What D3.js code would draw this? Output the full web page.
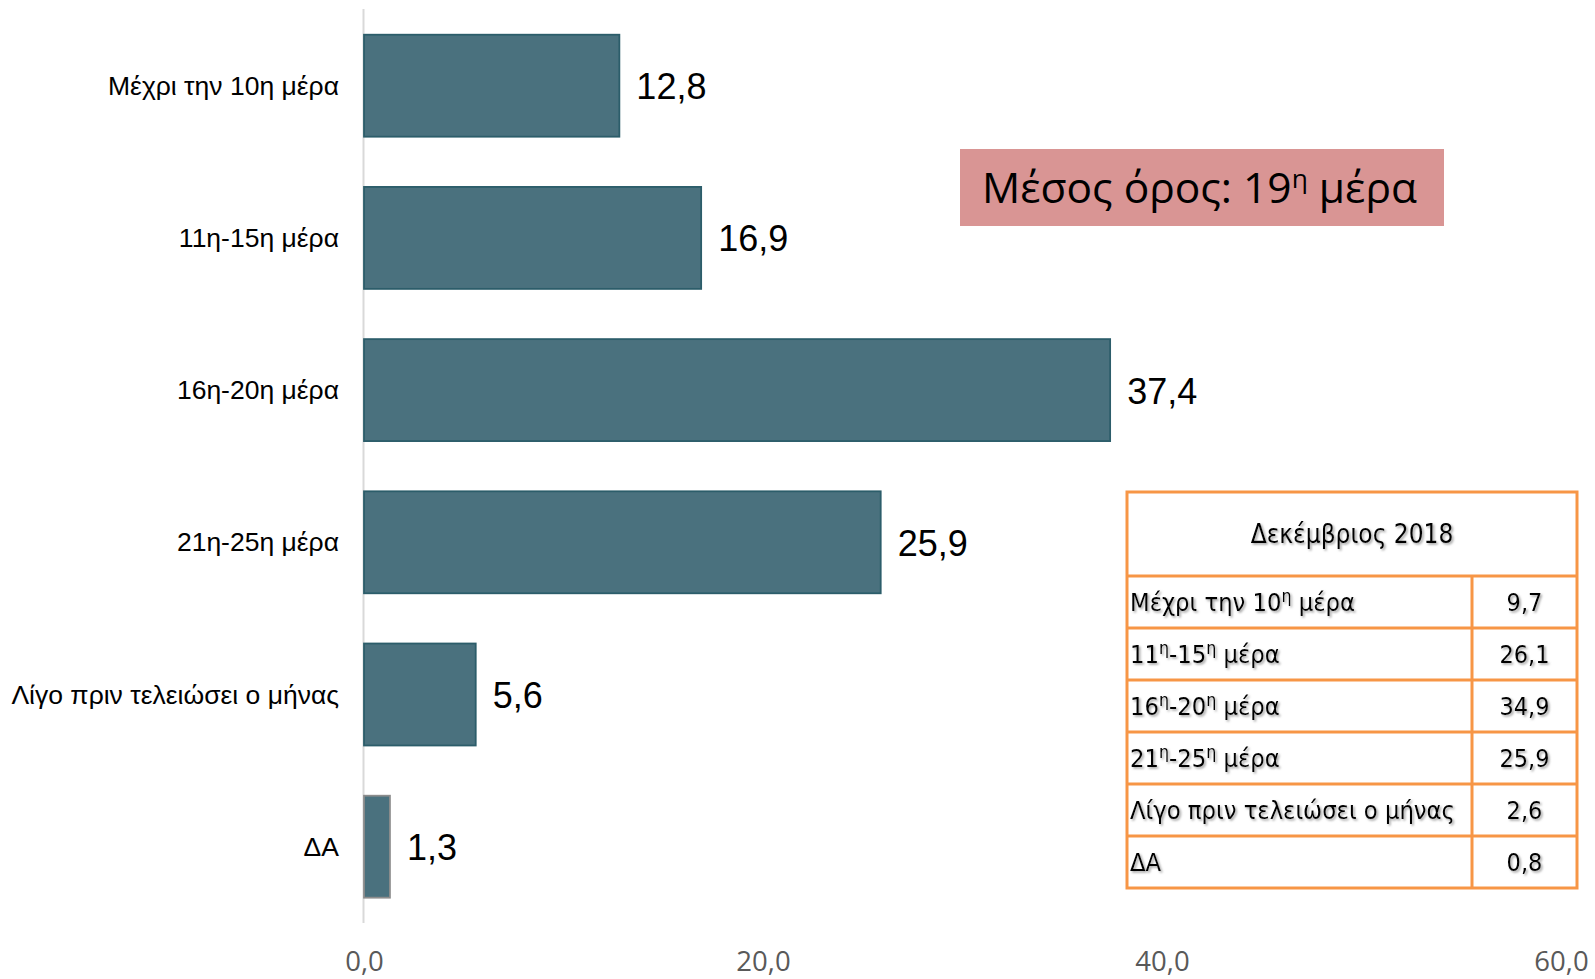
<!DOCTYPE html>
<html>
<head>
<meta charset="utf-8">
<script src="https://cdn.jsdelivr.net/npm/d3@7"></script>
<style>
  html, body { margin: 0; padding: 0; background: #ffffff; }
  svg { display: block; }
</style>
</head>
<body>
<svg id="chart" width="1595" height="979"></svg>
<script>
// Payment day distribution (%), with the December 2018 comparison table
const categories = [
  "Μέχρι την 10η μέρα",
  "11η-15η μέρα",
  "16η-20η μέρα",
  "21η-25η μέρα",
  "Λίγο πριν τελειώσει ο μήνας",
  "ΔΑ"
];
const values = [12.8, 16.9, 37.4, 25.9, 5.6, 1.3];
const xTicks = [0, 20, 40, 60];

const averageLabel = "Μέσος όρος: 19^η^ μέρα";

const tableTitle = "Δεκέμβριος 2018";
const tableLabels = [
  "Μέχρι την 10^η^ μέρα",
  "11^η^-15^η^ μέρα",
  "16^η^-20^η^ μέρα",
  "21^η^-25^η^ μέρα",
  "Λίγο πριν τελειώσει ο μήνας",
  "ΔΑ"
];
const tableValues = [9.7, 26.1, 34.9, 25.9, 2.6, 0.8];

const locale = d3.formatLocale({ decimal: ",", thousands: ".", grouping: [3], currency: ["", "€"] });
const fmt = locale.format(".1f");

const svg = d3.select("#chart");

// write "a^sup^b" strings as text with raised superscript tspans
function richText(sel, str, size, supScale, rise) {
  const parts = str.split("^");
  parts.forEach((p, i) => {
    if (!p) return;
    const sup = i % 2 === 1;
    const t = sel.append("tspan").text(p);
    if (sup) {
      t.attr("font-size", size * supScale).attr("dy", -rise);
    } else if (i > 0 && (i - 1) % 2 === 1) {
      t.attr("dy", rise);
    }
  });
}

// ---- scales ----
const x = d3.scaleLinear().domain([0, 60]).range([364, 1561]);
const y = d3.scaleBand().domain(categories).range([9.6, 922.8]).paddingInner(0.33).paddingOuter(0.165);

// ---- vertical axis line ----
svg.append("line")
  .attr("x1", x(0) - 0.5).attr("x2", x(0) - 0.5)
  .attr("y1", 9).attr("y2", 923)
  .attr("stroke", "#d9d9d9").attr("stroke-width", 2);

// ---- bars ----
svg.append("g").selectAll("rect")
  .data(values)
  .join("rect")
  .attr("x", x(0))
  .attr("y", (d, i) => y(categories[i]))
  .attr("width", d => x(d) - x(0))
  .attr("height", y.bandwidth())
  .attr("fill", "#4a717e")
  .attr("stroke", (d, i) => categories[i] === "ΔΑ" ? "#8c8c8c" : "#2c5d6a")
  .attr("stroke-width", 1.8);

// ---- value labels ----
svg.append("g").selectAll("text")
  .data(values)
  .join("text")
  .attr("x", d => x(d) + 17)
  .attr("y", (d, i) => y(categories[i]) + y.bandwidth() / 2 + 13.5)
  .attr("font-family", "'Liberation Sans', Arial, sans-serif")
  .attr("font-size", 36)
  .attr("fill", "#000")
  .text(d => fmt(d));

// ---- category labels ----
svg.append("g").selectAll("text")
  .data(categories)
  .join("text")
  .attr("x", 339)
  .attr("y", d => y(d) + y.bandwidth() / 2 + 9)
  .attr("text-anchor", "end")
  .attr("font-family", "'Liberation Sans', Arial, sans-serif")
  .attr("font-size", 26.5)
  .attr("fill", "#000")
  .text(d => d);

// ---- x axis tick labels ----
const xAxis = d3.axisBottom(x).tickValues(xTicks).tickFormat(fmt).tickSize(0);
const gx = svg.append("g").attr("transform", "translate(0,971)").call(xAxis);
gx.select(".domain").remove();
gx.selectAll("text")
  .attr("y", 0).attr("dy", 0)
  .attr("font-family", "'Open Sans', sans-serif")
  .attr("font-size", 27.5)
  .attr("fill", "#595959");

// ---- average box ----
svg.append("rect")
  .attr("x", 960).attr("y", 149)
  .attr("width", 484).attr("height", 77)
  .attr("fill", "#d99594");
const avgText = svg.append("text")
  .attr("x", 982).attr("y", 203)
  .attr("font-family", "'Open Sans', sans-serif")
  .attr("font-size", 42.5)
  .attr("fill", "#000");
richText(avgText, averageLabel, 42.5, 0.62, 15);

// ---- December 2018 table ----
const defs = svg.append("defs");
const f = defs.append("filter").attr("id", "txtShadow")
  .attr("x", "-5%").attr("y", "-20%").attr("width", "115%").attr("height", "150%");
f.append("feDropShadow")
  .attr("dx", 1.6).attr("dy", 1.6).attr("stdDeviation", 0.9)
  .attr("flood-color", "#7f7f7f").attr("flood-opacity", 0.75);

const tb = { x0: 1127, x1: 1577, xDiv: 1472, y0: 492, headerH: 84, rowH: 52 };
const tableFont = "'DejaVu Sans Condensed', 'DejaVu Sans', sans-serif";
const orange = "#f79646";
const tg = svg.append("g");

tg.append("text")
  .attr("x", (tb.x0 + tb.x1) / 2)
  .attr("y", tb.y0 + tb.headerH / 2 + 9)
  .attr("text-anchor", "middle")
  .attr("font-family", tableFont)
  .attr("font-size", 26)
  .attr("filter", "url(#txtShadow)")
  .text(tableTitle);

tableLabels.forEach((lab, i) => {
  const top = tb.y0 + tb.headerH + i * tb.rowH;
  const t = tg.append("text")
    .attr("x", tb.x0 + 3)
    .attr("y", top + tb.rowH / 2 + 9)
    .attr("font-family", tableFont)
    .attr("font-size", 25.3)
    .attr("filter", "url(#txtShadow)");
  richText(t, lab, 25.3, 0.7, 9);
  tg.append("text")
    .attr("x", (tb.xDiv + tb.x1) / 2)
    .attr("y", top + tb.rowH / 2 + 9)
    .attr("text-anchor", "middle")
    .attr("font-family", tableFont)
    .attr("font-size", 25)
    .attr("filter", "url(#txtShadow)")
    .text(fmt(tableValues[i]));
});

// grid lines
const tableBottom = tb.y0 + tb.headerH + tableLabels.length * tb.rowH;
tg.append("rect")
  .attr("x", tb.x0).attr("y", tb.y0)
  .attr("width", tb.x1 - tb.x0).attr("height", tableBottom - tb.y0)
  .attr("fill", "none").attr("stroke", orange).attr("stroke-width", 3);
tableLabels.forEach((lab, i) => {
  const yy = tb.y0 + tb.headerH + i * tb.rowH;
  tg.append("line")
    .attr("x1", tb.x0).attr("x2", tb.x1)
    .attr("y1", yy).attr("y2", yy)
    .attr("stroke", orange).attr("stroke-width", 3);
});
tg.append("line")
  .attr("x1", tb.xDiv).attr("x2", tb.xDiv)
  .attr("y1", tb.y0 + tb.headerH).attr("y2", tableBottom)
  .attr("stroke", orange).attr("stroke-width", 3);
</script>
</body>
</html>
